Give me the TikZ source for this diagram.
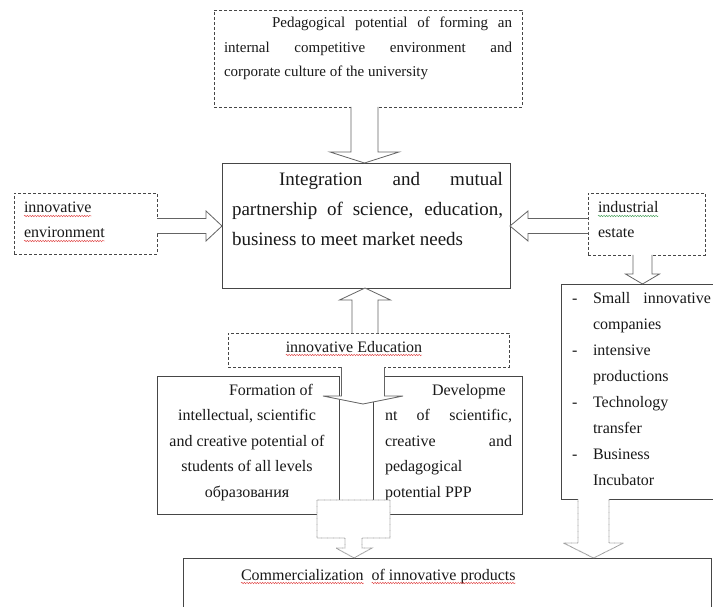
\documentclass[tikz,border=0pt]{standalone}
\usepackage{fontspec}
\setmainfont{Liberation Serif}
\usetikzlibrary{calc,fit,decorations.pathmorphing}
\definecolor{boxcol}{RGB}{70,70,70}
\definecolor{arrcol}{RGB}{100,100,100}
\definecolor{dotcol}{RGB}{150,150,150}
\definecolor{txtcol}{RGB}{25,25,25}
\definecolor{squigred}{RGB}{225,70,70}
\definecolor{squiggreen}{RGB}{70,160,90}
\newcommand\blockarrow[6][]{%
  \coordinate (bah) at ($(#3)!#6!(#2)$);
  \path ($(#2)!#4!90:(#3)$) coordinate (ba1)
        ($(bah)!#4!90:(#3)$) coordinate (ba2)
        ($(bah)!#5!90:(#3)$) coordinate (ba3)
        ($(bah)!#5!-90:(#3)$) coordinate (ba4)
        ($(bah)!#4!-90:(#3)$) coordinate (ba5)
        ($(#2)!#4!-90:(#3)$) coordinate (ba6);
  \fill[white] (ba1) -- (ba2) -- (ba3) -- (#3) -- (ba4) -- (ba5) -- (ba6) -- cycle;
  \draw[#1] (ba1) -- (ba2) -- (ba3) -- (#3) -- (ba4) -- (ba5) -- (ba6);}
\newcommand\boxnode[6]{%
  \path (#3,#4) coordinate (#2-nw) (#5,#6) coordinate (#2-se);
  \node[#1, fit=(#2-nw)(#2-se)] (#2) {};}
\begin{document}
\begin{tikzpicture}[x=1pt,y=-1pt,
  solidbox/.style={draw=boxcol, line width=0.9pt, inner sep=0pt, outer sep=0pt, fill=white},
  dashbox/.style={draw=boxcol, line width=0.8pt, dash pattern=on 3pt off 2pt, inner sep=0pt, outer sep=0pt, fill=white},
  barrow/.style={draw=arrcol, line width=0.8pt, line join=miter},
  dotarrow/.style={draw=dotcol, line width=0.9pt, dash pattern=on 0.7pt off 0.5pt, line join=miter},
  txt/.style={inner sep=0pt, outer sep=0pt, text=txtcol, font=\fontsize{16}{19}\selectfont},
  toptxt/.style={txt, font=\fontsize{15}{18}\selectfont},
  maintxt/.style={txt, font=\fontsize{19}{22}\selectfont},
  squig/.style={draw=squigred, line width=0.45pt, decorate, decoration={snake, amplitude=0.7pt, segment length=2.6pt}},
  squigg/.style={squig, draw=squiggreen}]
\path[use as bounding box, clip] (0,0) rectangle (713,607);

% boxes
\boxnode{dashbox}{top}{214}{10}{522}{107}
\boxnode{solidbox}{main}{222}{163}{510}{288}
\boxnode{dashbox}{env}{14}{193}{157}{254}
\boxnode{dashbox}{ind}{588}{193}{705}{255}
\boxnode{solidbox}{list}{561}{284}{716}{499}
\boxnode{dashbox}{edu}{228}{333}{509}{367}
\boxnode{solidbox}{form}{157}{376}{339}{514}
\boxnode{solidbox}{dev}{373}{376}{522}{514}
\boxnode{solidbox}{comm}{183}{558}{711}{612}

% top box text
\node[toptxt, anchor=base west] (t1) at (272,28) {\makebox[240pt][s]{Pedagogical potential of forming an}};
\node[toptxt, anchor=base west] (t2) at (224,53) {\makebox[288pt][s]{internal competitive environment and}};
\node[toptxt, anchor=base west] (t3) at (224,77) {corporate culture of the university};

% main box text
\node[maintxt, anchor=base west] (m1) at (279,186) {\makebox[224pt][s]{Integration and mutual}};
\node[maintxt, anchor=base west] (m2) at (232,216) {\makebox[271pt][s]{partnership of science, education,}};
\node[maintxt, anchor=base west] (m3) at (232,245) {business to meet market needs};

% side boxes
\node[txt, anchor=base west] (e1) at (24,213) {innovative};
\node[txt, anchor=base west] (e2) at (24,238) {environment};
\node[txt, anchor=base west] (i1) at (598,213) {industrial};
\node[txt, anchor=base west] (i2) at (598,238) {estate};
\draw[squig] ([yshift=-3pt]e1.base west) -- ([yshift=-3pt]e1.base east);
\draw[squig] ([yshift=-3pt]e2.base west) -- ([yshift=-3pt]e2.base east);
\draw[squigg] ([yshift=-3pt]i1.base west) -- ([yshift=-3pt]i1.base east);

% education
\node[txt, anchor=base] (ed) at (354,352) {innovative Education};
\draw[squig] ([yshift=-3pt]ed.base west) -- ([yshift=-3pt]ed.base east);

% list
\foreach \yy/\nm in {303/d1,355/d2,407/d3,459/d4}
  \node[txt, anchor=base west] (\nm) at (572,\yy) {-};
\node[txt, anchor=base west] (l1) at (593,303) {\makebox[118pt][s]{Small innovative}};
\node[txt, anchor=base west] (l2) at (593,329) {companies};
\node[txt, anchor=base west] (l3) at (593,355) {intensive};
\node[txt, anchor=base west] (l4) at (593,381) {productions};
\node[txt, anchor=base west] (l5) at (593,407) {Technology};
\node[txt, anchor=base west] (l6) at (593,433) {transfer};
\node[txt, anchor=base west] (l7) at (593,459) {Business};
\node[txt, anchor=base west] (l8) at (593,485) {Incubator};

% formation box
\node[txt, anchor=base east] (f1) at (313,395) {Formation of};
\node[txt, anchor=base] (f2) at (247,420.5) {intellectual, scientific};
\node[txt, anchor=base] (f3) at (247,446) {and creative potential of};
\node[txt, anchor=base] (f4) at (247,471.5) {students of all levels};
\node[txt, anchor=base] (f5) at (247,497) {образования};

% development box
\node[txt, anchor=base west] (v1) at (432,395) {Developme};
\node[txt, anchor=base west] (v2) at (385,420.5) {\makebox[127pt][s]{nt of scientific,}};
\node[txt, anchor=base west] (v3) at (385,446) {\makebox[127pt][s]{creative and}};
\node[txt, anchor=base west] (v4) at (385,471.5) {pedagogical};
\node[txt, anchor=base west] (v5) at (385,497) {potential PPP};

% commercialization
\node[txt, anchor=base west] (c1) at (241,580) {Commercialization};
\node[txt, anchor=base west] (c2) at ([xshift=8pt]c1.base east) {of innovative products};
\draw[squig] ([yshift=-3pt]c1.base west) -- ([yshift=-3pt]c1.base east);
\draw[squig] ([yshift=-3pt]c2.base west) -- ([yshift=-3pt]c2.base east);

% arrow anchor points
\coordinate (a1s) at (364.5,0 |- top.south);
\coordinate (a1e) at (364.5,0 |- main.north);
\coordinate (a2s) at (0,226 -| env.east);
\coordinate (a2e) at (0,226 -| main.west);
\coordinate (a3s) at (0,226 -| ind.west);
\coordinate (a3e) at (0,226 -| main.east);
\coordinate (a4s) at (642.5,0 |- ind.south);
\coordinate (a4e) at (642.5,0 |- list.north);
\coordinate (a5s) at (365,0 |- edu.north);
\coordinate (a5e) at (365,0 |- main.south);
\coordinate (a6s) at (363,0 |- edu.south);
\coordinate (a6e) at (363,404);
\coordinate (a8s) at (593.5,0 |- list.south);
\coordinate (a8e) at (593.5,0 |- comm.north);

% block arrows
\blockarrow[barrow]{a1s}{a1e}{13.5pt}{34.5pt}{11pt}
\blockarrow[barrow]{a2s}{a2e}{7.5pt}{15pt}{16pt}
\blockarrow[barrow]{a3s}{a3e}{7.5pt}{15pt}{18pt}
\blockarrow[barrow]{a4s}{a4e}{9.5pt}{17pt}{10pt}
\blockarrow[barrow]{a5s}{a5e}{13pt}{25.5pt}{12pt}
\blockarrow[barrow]{a6s}{a6e}{21.5pt}{40pt}{8pt}
\blockarrow[dotarrow]{a8s}{a8e}{15.5pt}{30pt}{15pt}

% callout arrow between the two lower boxes
\coordinate (cb) at (354,0 |- comm.north);
\draw[dotarrow, fill=white] (317,500) -- (390,500) -- (390,538) -- (362,538) -- (362,548) -- (372,548) -- (cb) -- (336,548) -- (345,548) -- (345,538) -- (317,538) -- cycle;
\end{tikzpicture}
\end{document}
